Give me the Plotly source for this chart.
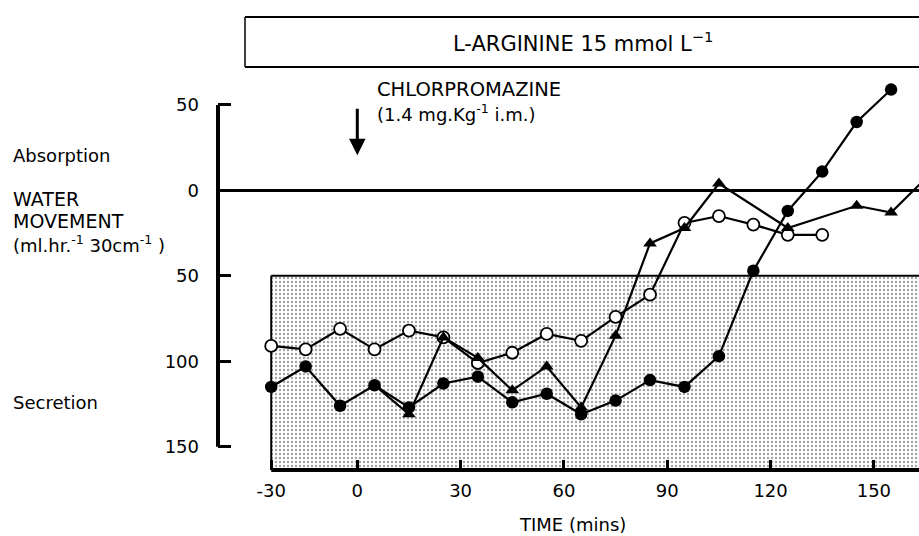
import plotly.graph_objects as go

# ---- data (water movement, ml.hr-1 30cm-1; absorption positive, secretion negative) ----
time_open = [-25, -15, -5, 5, 15, 25, 35, 45, 55, 65, 75, 85, 95, 105, 115, 125, 135]
open_vals = [-91, -93, -81, -93, -82, -86, -101, -95, -84, -88, -74, -61, -19, -15, -20, -26, -26]

time_filled = [-25, -15, -5, 5, 15, 25, 35, 45, 55, 65, 75, 85, 95, 105, 115, 125, 135, 145, 155]
filled_vals = [-115, -103, -126, -114, -127, -113, -109, -124, -119, -131, -123, -111, -115, -97, -47, -12, 11, 40, 59]

time_tri = [5, 15, 25, 35, 45, 55, 65, 75, 85, 95, 105, 125, 145, 155, 165]
tri_vals = [-114, -131, -86, -98, -117, -103, -127, -85, -31, -22, 4, -22, -9, -13, 7]

x_tickvals = [-25, 0, 30, 60, 90, 120, 150]
x_ticktext = ["-30", "0", "30", "60", "90", "120", "150"]
y_tickvals = [50, 0, -50, -100, -150]
y_ticktext = ["50", "0", "50", "100", "150"]

shade_x0 = -25      # start of shaded (secretion) band
shade_top = -50     # top of shaded band
drug_time = 0       # chlorpromazine injection

W, H = 919, 536
ML, MR, MT, MB = 218, 0, 80, 66
XR = [-40.45, 163.1]
YR = [-163.6, 64.6]
FONT = "DejaVu Sans"


def px(xp):
    return (xp - ML) / (W - ML - MR)


def py(yp):
    return (H - MB - yp) / (H - MT - MB)


fig = go.Figure()

# shaded stippled band
fig.add_trace(go.Scatter(
    x=[shade_x0, XR[1] + 20, XR[1] + 20, shade_x0, shade_x0],
    y=[shade_top, shade_top, YR[0] - 20, YR[0] - 20, shade_top],
    mode="lines", fill="toself", fillcolor="white",
    fillpattern=dict(shape=".", fgcolor="#444444", bgcolor="white", size=4, solidity=0.28),
    line=dict(color="black", width=2), hoverinfo="skip", showlegend=False))

line_style = dict(color="black", width=2.2)
fig.add_trace(go.Scatter(
    x=time_open, y=open_vals, mode="lines+markers", line=line_style,
    marker=dict(symbol="circle", size=12, color="white", line=dict(color="black", width=1.8)),
    showlegend=False))
fig.add_trace(go.Scatter(
    x=time_tri, y=tri_vals, mode="lines+markers", line=line_style,
    marker=dict(symbol="triangle-up", size=12, color="black"),
    showlegend=False))
fig.add_trace(go.Scatter(
    x=time_filled, y=filled_vals, mode="lines+markers", line=line_style,
    marker=dict(symbol="circle", size=12.5, color="black"),
    showlegend=False))

shapes = [
    # y axis bar
    dict(type="line", xref="paper", yref="y", x0=0, x1=0,
         y0=y_tickvals[-1], y1=y_tickvals[0], line=dict(color="black", width=4)),
    # bottom axis bar
    dict(type="line", xref="x", yref="paper", x0=shade_x0, x1=XR[1] + 20,
         y0=0, y1=0, line=dict(color="black", width=4)),
    # title box
    dict(type="line", xref="paper", yref="paper", x0=px(245), x1=1.02,
         y0=py(17), y1=py(17), line=dict(color="black", width=2)),
    dict(type="line", xref="paper", yref="paper", x0=px(245), x1=1.02,
         y0=py(67), y1=py(67), line=dict(color="black", width=2)),
    dict(type="line", xref="paper", yref="paper", x0=px(245), x1=px(245),
         y0=py(17), y1=py(67), line=dict(color="black", width=1.5)),
]

f18 = dict(family=FONT, size=18, color="black")
f19 = dict(family=FONT, size=19, color="black")


def label(text, xp, yp, font, xanchor="left"):
    return dict(text=text, xref="paper", yref="paper", x=px(xp), y=py(yp),
                xanchor=xanchor, yanchor="middle", showarrow=False, font=font)


annotations = [
    label("L-ARGININE 15 mmol L<sup>\u22121</sup>", 583, 42,
          dict(family=FONT, size=21, color="black"), "center"),
    label("CHLORPROMAZINE", 375, 89, dict(family=FONT, size=19.5, color="black")),
    label("(1.4 mg.Kg<sup>-1</sup> i.m.)", 375, 113, f18),
    dict(text="", x=drug_time, y=20.5, xref="x", yref="y", ax=0, ay=-48,
         showarrow=True, arrowhead=2, arrowsize=1.1, arrowwidth=3, arrowcolor="black"),
    label("Absorption", 11, 155, f18),
    label("WATER", 11, 199, f19),
    label("MOVEMENT", 11, 221, f19),
    label("(ml.hr.<sup>-1</sup> 30cm<sup>-1</sup> )", 11, 244, f18),
    label("Secretion", 11, 402, f18),
    label("TIME (mins)", 572, 524, f18, "center"),
]

fig.update_layout(
    width=W, height=H, margin=dict(l=ML, r=MR, t=MT, b=MB, pad=0),
    paper_bgcolor="white", plot_bgcolor="white",
    font=f18, shapes=shapes, annotations=annotations, showlegend=False,
    xaxis=dict(range=XR, tickvals=x_tickvals, ticktext=x_ticktext, ticks="inside",
               ticklen=10, tickwidth=3, tickcolor="black", showgrid=False, zeroline=False,
               showline=False, tickfont=f18, ticklabelstandoff=8),
    yaxis=dict(range=YR, tickvals=y_tickvals, ticktext=y_ticktext, ticks="inside",
               ticklen=13, tickwidth=3, tickcolor="black", showgrid=False, zeroline=True,
               zerolinecolor="black", zerolinewidth=2.5, showline=False, tickfont=f18,
               ticklabelstandoff=18),
)

fig.write_html(
    "out.html",
    config={"displayModeBar": False},
    post_script="document.body.style.margin='0';document.body.style.overflow='hidden';",
)
